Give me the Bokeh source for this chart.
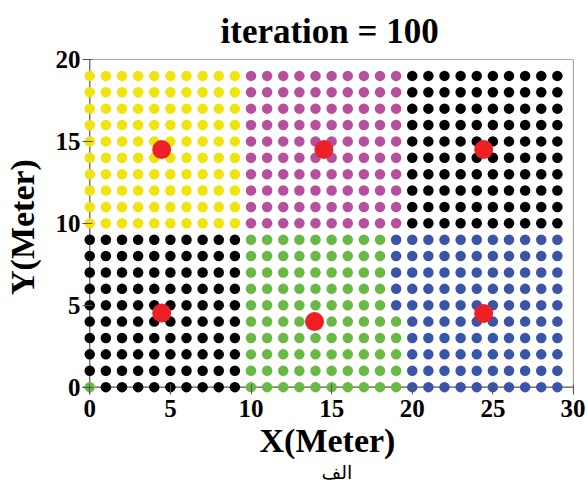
from bokeh.plotting import figure
from bokeh.models import Range1d, Span, Title, FixedTicker, ColumnDataSource
from bokeh.embed import file_html
from bokeh.resources import INLINE

# grid of sensor positions (meters)
x_cells = list(range(30))
y_cells = list(range(20))

# cluster label of each grid point, one string per row, top row (y = 19) first
cluster_rows = [
    "YYYYYYYYYYMMMMMMMMMMKKKKKKKKKK",  # y=19
    "YYYYYYYYYYMMMMMMMMMMKKKKKKKKKK",  # y=18
    "YYYYYYYYYYMMMMMMMMMMKKKKKKKKKK",  # y=17
    "YYYYYYYYYYMMMMMMMMMMKKKKKKKKKK",  # y=16
    "YYYYYYYYYYMMMMMMMMMMKKKKKKKKKK",  # y=15
    "YYYYYYYYYYMMMMMMMMMMKKKKKKKKKK",  # y=14
    "YYYYYYYYYYMMMMMMMMMMKKKKKKKKKK",  # y=13
    "YYYYYYYYYYMMMMMMMMMMKKKKKKKKKK",  # y=12
    "YYYYYYYYYYMMMMMMMMMMKKKKKKKKKK",  # y=11
    "YYYYYYYYYYMMMMMMMMMMKKKKKKKKKK",  # y=10
    "KKKKKKKKKKGGGGGGGGGBBBBBBBBBBB",  # y=9
    "KKKKKKKKKKGGGGGGGGGBBBBBBBBBBB",  # y=8
    "KKKKKKKKKKGGGGGGGGGBBBBBBBBBBB",  # y=7
    "KKKKKKKKKKGGGGGGGGGBBBBBBBBBBB",  # y=6
    "KKKKKKKKKKGGGGGGGGGBBBBBBBBBBB",  # y=5
    "KKKKKKKKKKGGGGGGGGGGBBBBBBBBBB",  # y=4
    "KKKKKKKKKKGGGGGGGGGGBBBBBBBBBB",  # y=3
    "KKKKKKKKKKGGGGGGGGGGBBBBBBBBBB",  # y=2
    "KKKKKKKKKKGGGGGGGGGGBBBBBBBBBB",  # y=1
    "GKKKKKKKKKGGGGGGGGGGBBBBBBBBBB",  # y=0
]

cluster_colors = {
    "Y": "#F0E40C",
    "M": "#B4509E",
    "K": "#000000",
    "G": "#69B946",
    "B": "#3B55A6",
}

# cluster heads (centroids)
centroid_x = [4.46, 14.52, 24.43, 4.46, 13.94, 24.43]
centroid_y = [14.5, 14.5, 14.5, 4.52, 4.0, 4.5]

x_ticks = [0, 5, 10, 15, 20, 25, 30]
y_ticks = [0, 5, 10, 15, 20]

px, py, pc = [], [], []
for r, row in enumerate(cluster_rows):
    yv = y_cells[len(y_cells) - 1 - r]
    for c, ch in enumerate(row):
        px.append(x_cells[c])
        py.append(yv)
        pc.append(cluster_colors[ch])
pts = ColumnDataSource(dict(x=px, y=py, c=pc))
heads = ColumnDataSource(dict(x=centroid_x, y=centroid_y))

SERIF = "Liberation Serif"

p = figure(
    frame_width=491, frame_height=335,
    x_range=Range1d(-0.45, 30), y_range=Range1d(-0.45, 20),
    output_backend="svg", toolbar_location=None,
    min_border_left=75, min_border_right=12, min_border_top=50, min_border_bottom=4,
)
p.outline_line_color = None
p.xgrid.visible = False
p.ygrid.visible = False
p.background_fill_color = "white"

border_color = "#555555"
for loc, dim in [(0, "height"), (30, "height"), (0, "width"), (20, "width")]:
    p.add_layout(Span(location=loc, dimension=dim, line_color=border_color,
                      line_width=1.2, level="underlay"))

p.scatter("x", "y", source=pts, size=10.5, fill_color="c", line_color=None)
p.scatter("x", "y", source=heads, size=19, fill_color="#EE1F25", line_color=None)

for ax in (p.xaxis[0], p.yaxis[0]):
    ax.axis_line_color = None
    ax.major_tick_out = 0
    ax.minor_tick_line_color = None
    ax.major_tick_line_color = border_color
    ax.major_label_text_font = SERIF
    ax.major_label_text_font_style = "bold"
    ax.major_label_text_font_size = "25px"
    ax.major_label_text_color = "black"

p.xaxis[0].major_label_standoff = 5
p.yaxis[0].major_label_standoff = 2
p.xaxis[0].ticker = FixedTicker(ticks=x_ticks)
p.yaxis[0].ticker = FixedTicker(ticks=y_ticks)
p.xaxis[0].major_tick_in = 10
p.yaxis[0].major_tick_in = 10

p.yaxis[0].axis_label = "Y(Meter)"
p.yaxis[0].axis_label_text_font = SERIF
p.yaxis[0].axis_label_text_font_style = "bold"
p.yaxis[0].axis_label_text_font_size = "34px"
p.yaxis[0].axis_label_text_color = "black"
p.yaxis[0].axis_label_standoff = 12

p.title = Title(text="iteration = 100", align="left", offset=138,
                text_font=SERIF, text_font_size="35px", text_font_style="bold",
                text_color="black", standoff=18)

p.add_layout(Title(text="X(Meter)", align="left", offset=177,
                   text_font=SERIF, text_font_size="34px", text_font_style="bold",
                   text_color="black", standoff=0), "below")
p.add_layout(Title(text="الف", align="left", offset=239,
                   text_font="DejaVu Sans", text_font_size="19px", text_font_style="normal",
                   text_color="black", standoff=1), "below")

open("out.html", "w").write(file_html(p, INLINE))
